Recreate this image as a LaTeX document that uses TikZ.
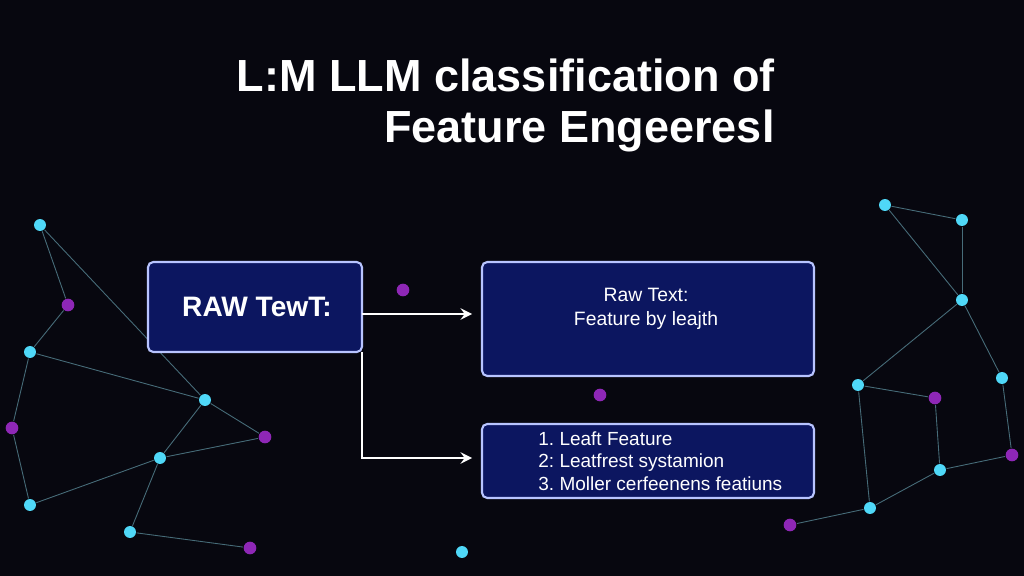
\documentclass[tikz,border=0pt]{standalone}
\usepackage{fontspec}
\setmainfont{Liberation Sans}
\usetikzlibrary{positioning}

\definecolor{bgdark}{HTML}{07070F}
\definecolor{boxfill}{HTML}{0C1660}
\definecolor{boxedge}{HTML}{B8C4FF}
\definecolor{dotcyan}{HTML}{4FD8F8}
\definecolor{dotpurple}{HTML}{B030E0}

\begin{document}
\begin{tikzpicture}[x=0.01cm, y=-0.01cm]

% Set the overall look of boxes, dots and links
\tikzstyle{panel} = [draw=boxedge, line width=0.6pt, fill=boxfill, rounded corners=1.5pt]
\tikzstyle{cdot} = [circle, fill=dotcyan, inner sep=0pt, minimum size=3.4pt]
\tikzstyle{pdot} = [circle, fill=dotpurple, inner sep=0pt, minimum size=3.6pt]
\tikzstyle{link} = [draw=dotcyan!60!white, opacity=0.45, line width=0.25pt]
\tikzstyle{flow} = [draw=white, line width=0.45pt, ->, >=stealth]

\fill[bgdark] (0,0) rectangle (1024,576);
\useasboundingbox (0,0) rectangle (1024,576);

% Network dots, left and right
\foreach \x/\y/\n in {40/225/a1, 30/352/a2, 205/400/a3, 160/458/a4, 130/532/a5, 30/505/a6,
  885/205/b1, 962/220/b2, 962/300/b3, 858/385/b4, 1002/378/b5, 940/470/b6, 870/508/b7, 462/552/b8}
  \node[cdot] (\n) at (\x,\y) {};
\foreach \x/\y/\n in {68/305/p1, 12/428/p2, 265/437/p3, 250/548/p4, 403/290/p5,
  935/398/q1, 1012/455/q2, 790/525/q3, 600/395/q4}
  \node[pdot, opacity=0.8] (\n) at (\x,\y) {};
\foreach \u/\v in {a1/p1, p1/a2, a2/a3, a2/p2, a3/a4, a4/a5, a5/p4, a4/p3, p3/a3, a6/a4,
  a1/a3, p2/a6, b1/b2, b2/b3, b3/b4, b4/q1, b3/b5, b5/q2, q1/b6, b6/b7, b7/q3, b4/b7, b1/b3, q2/b6}
  \path[link] (\u) -- (\v);

% Title
\node[anchor=east, text=white, font=\fontsize{12.8}{15}\selectfont\bfseries] (title1) at (787,75) {L:M LLM classification of};
\node[anchor=east, text=white, font=\fontsize{12.8}{15}\selectfont\bfseries] (title2) at (787,131) {Feature Engeeresl};

% Boxes
\path[panel] (148,262) rectangle (362,352);
\node[text=white, font=\fontsize{8}{10}\selectfont\bfseries] (raw) at (257,307) {RAW TewT:};
\coordinate (rawr) at (362,314);
\coordinate (rawd) at (362,352);

\path[panel] (482,262) rectangle (814,376);
\node[text=white, align=center, font=\fontsize{5.5}{7}\selectfont] (feat) at (646,309) {Raw Text:\\Feature by leajth};
\coordinate (featl) at (472,314);

\path[panel] (482,424) rectangle (814,498);
\node[text=white, align=left, anchor=west, font=\fontsize{5.4}{6.4}\selectfont] (list) at (526,461)
  {1.\ Leaft Feature\\2:\ Leatfrest systamion\\3.\ Moller cerfeenens featiuns};
\coordinate (listl) at (472,458);

% Connectors
\draw[flow] (rawr) -- (featl);
\draw[flow] (rawd) |- (listl);

\end{tikzpicture}
\end{document}
